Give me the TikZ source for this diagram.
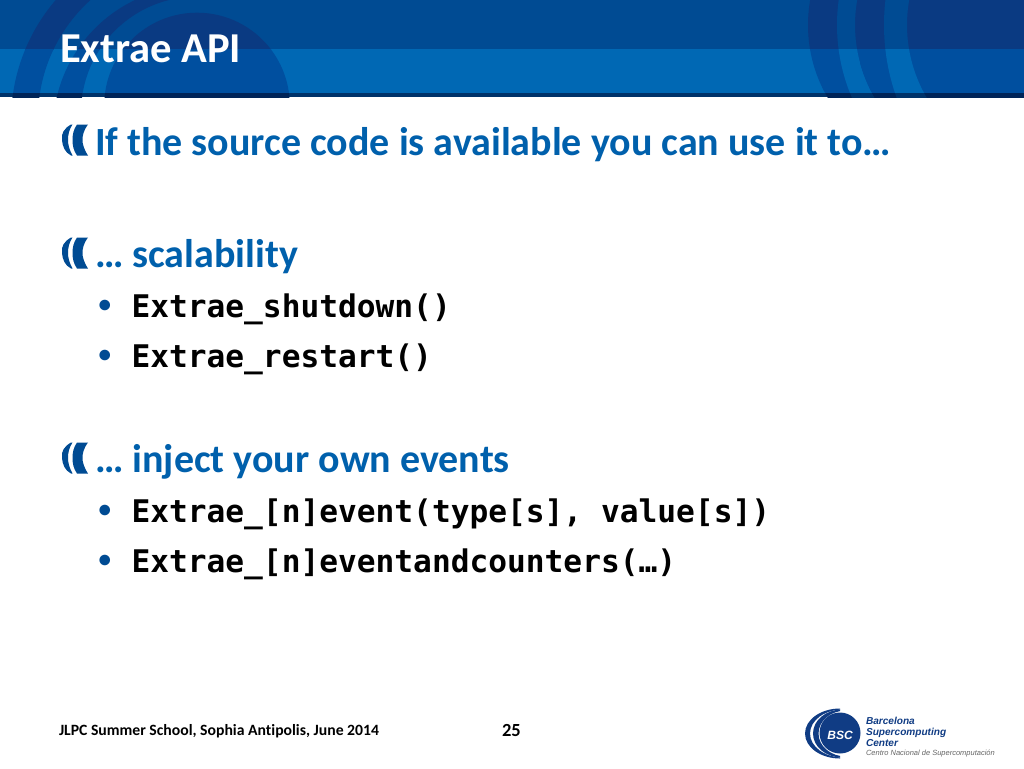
\documentclass[tikz,border=0pt]{standalone}
\usepackage{fontspec}
\setmainfont{Carlito}[Ligatures=CommonOff]
\newfontfamily\codefont{DejaVu Sans Mono}
\newfontfamily\logofont{Liberation Sans}
\definecolor{hdTop}{HTML}{004B93}
\definecolor{hdLow}{HTML}{0068B4}
\definecolor{hdTopDk}{HTML}{0A3A82}
\definecolor{hdLowDk}{HTML}{004F9F}
\definecolor{hdRule}{HTML}{00336A}
\definecolor{hdRuleDk}{HTML}{002458}
\definecolor{bodyBlue}{HTML}{0060AC}
\definecolor{markBlue}{HTML}{004B93}
\definecolor{logoBlue}{HTML}{103C84}
\tikzset{
  txt/.style={anchor=base west,inner sep=0pt,outer sep=0pt},
  titletext/.style={txt,text=white,font=\fontsize{42.6}{46}\selectfont\bfseries},
  headtext/.style={txt,text=bodyBlue,font=\fontsize{40}{44}\selectfont\bfseries},
  codetext/.style={txt,text=black,font=\fontsize{31.2}{36}\codefont\bfseries},
  dotmark/.style={txt,text=markBlue,font=\fontsize{25}{28}\selectfont\bfseries},
  foottext/.style={txt,text=black,font=\fontsize{15.7}{18}\selectfont\bfseries},
  pagenum/.style={txt,text=black,font=\fontsize{18.5}{20}\selectfont\bfseries},
  logoname/.style={txt,text=logoBlue,font=\fontsize{10.1}{12}\logofont\bfseries\itshape},
  logosub/.style={txt,text=black!60,font=\fontsize{7.5}{10}\logofont\itshape},
  logoinit/.style={anchor=center,inner sep=0pt,text=white,font=\fontsize{12}{14}\logofont\bfseries\itshape},
  pics/parens/.style={code={
    \fill[markBlue] (9,0) .. controls (2,4) and (-1,9) .. (0,15.5)
       .. controls (0.5,22) and (3,28) .. (9,31) -- (10.5,31)
       .. controls (7.2,25) and (6,20) .. (6,15.5)
       .. controls (6,10) and (7.2,5) .. (10.5,0) -- cycle;
    \fill[markBlue] (26,0) -- (15,0) .. controls (11.5,5) and (10.5,10) .. (10.5,15.5)
       .. controls (10.5,21) and (11.5,26) .. (15,31) -- (26,31)
       .. controls (21.5,24) and (20.5,19) .. (20.5,15.5)
       .. controls (20.5,11) and (21.5,6) .. (26,0) -- cycle;
  }}
}
\begin{document}
\begin{tikzpicture}[x=1pt,y=-1pt]
\useasboundingbox (0,0) rectangle (1024,768);
\fill[white] (0,0) rectangle (1024,768);
% header bands
\fill[hdTop] (0,0) rectangle (1024,49.5);
\fill[hdLow] (0,49.5) rectangle (1024,93);
\fill[hdRule] (0,93) rectangle (1024,97);
% header arcs, drawn once per band with its colour
\foreach \ya/\yb/\dk/\lt in {0/49.5/hdTopDk/hdTop, 49.5/93/hdLowDk/hdLow, 93/97/hdRuleDk/hdRule}{
  \begin{scope}
    \clip (0,\ya) rectangle (1024,\yb);
    \begin{scope}
      \clip (0,\ya) rectangle (197,\yb);
      \fill[\dk,even odd rule] (197,121) circle[radius=186] (197,118) circle[radius=159];
      \fill[\dk,even odd rule] (197,130) circle[radius=144] (197,112.6) circle[radius=116];
    \end{scope}
    \fill[\dk] (197,105.5) circle[radius=92.8];
    % right group
    \fill[\dk] (952,25) circle[radius=144];
    \fill[\lt,even odd rule] (1021,25) circle[radius=184] (999,25) circle[radius=144];
    \begin{scope}
      \clip (860,\ya) rectangle (1024,\yb);
      \fill[\dk] (999,25) circle[radius=144];
      \fill[\lt,even odd rule] (1099,25) circle[radius=215] (1051,25) circle[radius=144];
    \end{scope}
  \end{scope}
}
\node[titletext] (title) at (60,63) {Extrae API};
% bullets and text
\pic at (62,124.5) {parens};
\node[headtext] (h1) at (95,155) {If the source code is available you can use it to…};
\pic at (62,237.5) {parens};
\node[headtext] (h2) at (95,267) {… scalability};
\node[dotmark] (b1) at (98.5,312) {•};
\node[codetext] (c1) at (131.5,317) {Extrae\_shutdown()};
\node[dotmark] (b2) at (98.5,362) {•};
\node[codetext] (c2) at (131.5,367) {Extrae\_restart()};
\pic at (62,442.5) {parens};
\node[headtext] (h3) at (95,472) {… inject your own events};
\node[dotmark] (b3) at (98.5,517) {•};
\node[codetext] (c3) at (131.5,522) {Extrae\_[n]event(type[s], value[s])};
\node[dotmark] (b4) at (98.5,567) {•};
\node[codetext] (c4) at (131.5,572) {Extrae\_[n]eventandcounters(…)};
% footer
\node[foottext] (foot) at (59,735) {JLPC Summer School, Sophia Antipolis, June 2014};
\node[pagenum] (page) at (502,736) {25};
% logo
\begin{scope}
  \clip (790,700) rectangle (840,765);
  \fill[logoBlue,even odd rule] (840,733.5) ellipse[x radius=35,y radius=25] (843,733.5) ellipse[x radius=33,y radius=24];
  \fill[logoBlue,even odd rule] (842,733.5) ellipse[x radius=29,y radius=24] (846,733.5) ellipse[x radius=27.5,y radius=23];
\end{scope}
\fill[logoBlue] (840,733) circle[radius=20.5];
\node[logoinit] (bsc) at (840,735) {BSC};
\node[logoname] (l1) at (866,724) {Barcelona};
\node[logoname] (l2) at (866,735) {Supercomputing};
\node[logoname] (l3) at (866,746.5) {Center};
\node[logosub] (l4) at (866,755.5) {Centro Nacional de Supercomputación};
\end{tikzpicture}
\end{document}
